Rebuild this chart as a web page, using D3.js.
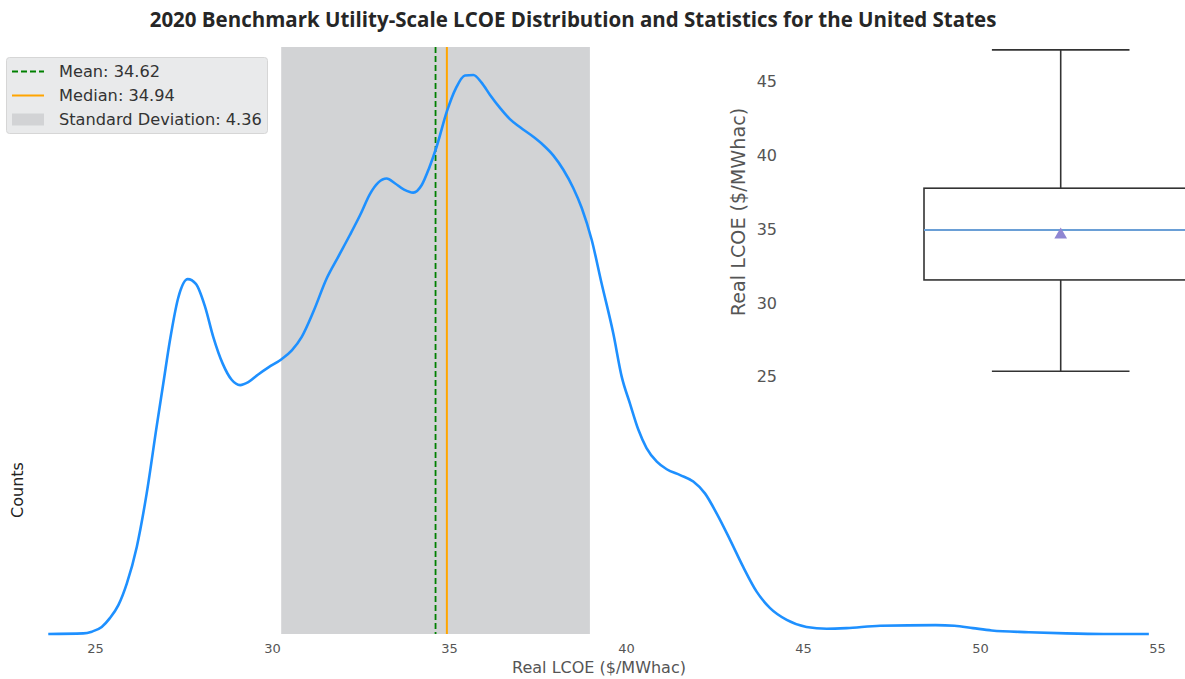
<!DOCTYPE html>
<html>
<head>
<meta charset="utf-8">
<script src="https://cdn.jsdelivr.net/npm/d3@7"></script>
<style>
  html, body { margin: 0; padding: 0; background: #ffffff; }
  svg { display: block; }
</style>
</head>
<body>
<svg id="chart" width="1185" height="679"></svg>
<script>
// Kernel density estimate of 2020 utility-scale LCOE ($/MWhac)
const lcoeGrid = [
  23.68, 24.67, 24.91, 25.19, 25.42, 25.66, 25.90, 26.18, 26.46, 26.74,
  26.93, 27.12, 27.35, 27.62, 27.85, 28.11, 28.34, 28.61, 28.86, 29.10,
  29.33, 29.61, 29.90, 30.27, 30.56, 30.84, 31.17, 31.55, 31.87, 32.20,
  32.49, 32.77, 33.00, 33.24, 33.47, 33.73, 33.99, 34.23, 34.44, 34.65,
  34.94, 35.20, 35.45, 35.69, 35.92, 36.16, 36.44, 36.72, 37.01, 37.38,
  37.66, 37.95, 38.23, 38.51, 38.75, 39.03, 39.31, 39.64, 39.88, 40.11,
  40.35, 40.58, 40.87, 41.15, 41.53, 41.90, 42.23, 42.56, 42.94, 43.31,
  43.69, 44.07, 44.54, 45.10, 45.67, 46.23, 47.18, 48.75, 49.28, 49.80,
  50.33, 51.38, 52.43, 53.49, 54.77
];
const density = [
  0.0000, 0.0001, 0.0004, 0.0012, 0.0027, 0.0049, 0.0086, 0.0148, 0.0239, 0.0352,
  0.0426, 0.0500, 0.0571, 0.0603, 0.0595, 0.0556, 0.0505, 0.0459, 0.0432, 0.0423,
  0.0428, 0.0441, 0.0453, 0.0467, 0.0482, 0.0505, 0.0548, 0.0605, 0.0641, 0.0678,
  0.0712, 0.0748, 0.0767, 0.0774, 0.0766, 0.0755, 0.0750, 0.0763, 0.0792, 0.0828,
  0.0888, 0.0928, 0.0949, 0.0950, 0.0937, 0.0916, 0.0894, 0.0875, 0.0861, 0.0845,
  0.0831, 0.0813, 0.0789, 0.0758, 0.0724, 0.0670, 0.0596, 0.0511, 0.0437, 0.0392,
  0.0347, 0.0316, 0.0293, 0.0280, 0.0270, 0.0259, 0.0239, 0.0205, 0.0160, 0.0114,
  0.0072, 0.0044, 0.0024, 0.0012, 0.0009, 0.0010, 0.0014, 0.0015, 0.0014, 0.0010,
  0.0006, 0.0003, 0.0001, 0.0000, 0.0000
];

// Summary statistics
const meanValue = 34.62;
const medianValue = 34.94;
const stdValue = 4.36;

// Box plot statistics (fliers hidden)
const whiskerLow = 25.37;
const quartile1 = 31.56;
const quartile3 = 37.78;
const whiskerHigh = 47.16;

const xTicks = [25, 30, 35, 40, 45, 50, 55];
const insetTicks = [25, 30, 35, 40, 45];

const titleText = "2020 Benchmark Utility-Scale LCOE Distribution and Statistics for the United States";
const xLabel = "Real LCOE ($/MWhac)";
const yLabel = "Counts";
const legendLabels = [
  "Mean: " + meanValue.toFixed(2),
  "Median: " + medianValue.toFixed(2),
  "Standard Deviation: " + stdValue.toFixed(2)
];

const svg = d3.select("#chart");
const FONT = "'DejaVu Sans', sans-serif";

// ---- Main density axes ----
const plotTop = 47, plotBottom = 634;
const x = d3.scaleLinear().domain([25, 55]).range([95, 1157]);
const y = d3.scaleLinear().domain([0, d3.max(density) * 1.05]).range([plotBottom, plotTop]);

// Standard deviation band
svg.append("rect")
  .attr("x", x(meanValue - stdValue))
  .attr("y", plotTop)
  .attr("width", x(meanValue + stdValue) - x(meanValue - stdValue))
  .attr("height", plotBottom - plotTop)
  .attr("fill", "#d2d3d5");

// Mean and median lines
svg.append("line")
  .attr("x1", x(meanValue)).attr("x2", x(meanValue))
  .attr("y1", plotTop).attr("y2", plotBottom)
  .attr("stroke", "#008000").attr("stroke-width", 1.8)
  .attr("stroke-dasharray", "6,3");
svg.append("line")
  .attr("x1", x(medianValue)).attr("x2", x(medianValue))
  .attr("y1", plotTop).attr("y2", plotBottom)
  .attr("stroke", "#FFA500").attr("stroke-width", 2);

// Density curve
const pts = lcoeGrid.map((v, i) => [v, density[i]]);
svg.append("path")
  .datum(pts)
  .attr("fill", "none")
  .attr("stroke", "#1E90FF")
  .attr("stroke-width", 2.6)
  .attr("stroke-linejoin", "round")
  .attr("d", d3.line().x(d => x(d[0])).y(d => y(d[1])).curve(d3.curveMonotoneX));

// X axis (labels only, no spine or tick marks)
const xAxis = svg.append("g")
  .attr("transform", `translate(0,${plotBottom + 6})`)
  .call(d3.axisBottom(x).tickValues(xTicks).tickSize(0).tickPadding(4).tickFormat(d3.format("d")));
xAxis.select(".domain").remove();
xAxis.selectAll("text").attr("font-family", FONT).attr("font-size", 13).attr("fill", "#555");

svg.append("text")
  .attr("x", 599).attr("y", 673)
  .attr("text-anchor", "middle")
  .attr("font-family", FONT).attr("font-size", 16).attr("fill", "#555")
  .text(xLabel);

svg.append("text")
  .attr("transform", "translate(23,490) rotate(-90)")
  .attr("text-anchor", "middle")
  .attr("font-family", FONT).attr("font-size", 16).attr("fill", "#222")
  .text(yLabel);

// ---- Inset box plot ----
const yInset = d3.scaleLinear().domain([25, 45]).range([376.7, 81.7]);
const boxCenter = 1060.7, boxHalf = 136.7, capHalf = 68.8;
const boxG = svg.append("g");

// whiskers
boxG.append("line")
  .attr("x1", boxCenter).attr("x2", boxCenter)
  .attr("y1", yInset(quartile3)).attr("y2", yInset(whiskerHigh))
  .attr("stroke", "#333").attr("stroke-width", 1.6);
boxG.append("line")
  .attr("x1", boxCenter).attr("x2", boxCenter)
  .attr("y1", yInset(quartile1)).attr("y2", yInset(whiskerLow))
  .attr("stroke", "#333").attr("stroke-width", 1.6);
[whiskerHigh, whiskerLow].forEach(v => {
  boxG.append("line")
    .attr("x1", boxCenter - capHalf).attr("x2", boxCenter + capHalf)
    .attr("y1", yInset(v)).attr("y2", yInset(v))
    .attr("stroke", "#333").attr("stroke-width", 1.6);
});
// box
boxG.append("rect")
  .attr("x", boxCenter - boxHalf)
  .attr("y", yInset(quartile3))
  .attr("width", boxHalf * 2)
  .attr("height", yInset(quartile1) - yInset(quartile3))
  .attr("fill", "none").attr("stroke", "#333").attr("stroke-width", 1.6);
// median
boxG.append("line")
  .attr("x1", boxCenter - boxHalf).attr("x2", boxCenter + boxHalf)
  .attr("y1", yInset(medianValue)).attr("y2", yInset(medianValue))
  .attr("stroke", "#6a9fd6").attr("stroke-width", 2);
// mean marker
boxG.append("path")
  .attr("transform", `translate(${boxCenter},${yInset(meanValue)})`)
  .attr("d", d3.symbol().type(d3.symbolTriangle).size(70))
  .attr("fill", "#8f86d2");

// inset y axis labels
const insetAxis = svg.append("g")
  .attr("transform", "translate(777,0)")
  .call(d3.axisLeft(yInset).tickValues(insetTicks).tickSize(0).tickPadding(0).tickFormat(d3.format("d")));
insetAxis.select(".domain").remove();
insetAxis.selectAll("text").attr("font-family", FONT).attr("font-size", 16).attr("fill", "#555");

svg.append("text")
  .attr("transform", "translate(745,212) rotate(-90)")
  .attr("text-anchor", "middle")
  .attr("font-family", FONT).attr("font-size", 19.2).attr("fill", "#555")
  .text("Real LCOE ($/MWhac)");

// ---- Legend ----
const lg = svg.append("g");
lg.append("rect")
  .attr("x", 6.5).attr("y", 57.5).attr("width", 261).attr("height", 76)
  .attr("rx", 3).attr("fill", "#e9eaeb").attr("stroke", "#d6d6d6");
const rowY = [71.5, 95.5, 119.5];
lg.append("line").attr("x1", 12).attr("x2", 44).attr("y1", rowY[0]).attr("y2", rowY[0])
  .attr("stroke", "#008000").attr("stroke-width", 1.8).attr("stroke-dasharray", "6,3");
lg.append("line").attr("x1", 12).attr("x2", 44).attr("y1", rowY[1]).attr("y2", rowY[1])
  .attr("stroke", "#FFA500").attr("stroke-width", 2);
lg.append("rect").attr("x", 12).attr("y", rowY[2] - 6).attr("width", 32).attr("height", 12)
  .attr("fill", "#d2d3d5");
legendLabels.forEach((t, i) => {
  lg.append("text")
    .attr("x", 59).attr("y", rowY[i])
    .attr("dy", "0.35em")
    .attr("font-family", FONT).attr("font-size", 16.2).attr("fill", "#333")
    .text(t);
});

// ---- Title ----
const title = svg.append("text")
  .attr("x", 573).attr("y", 27)
  .attr("text-anchor", "middle")
  .attr("font-family", "'Open Sans', sans-serif")
  .attr("font-weight", 700)
  .attr("font-size", 20)
  .attr("fill", "#262626")
  .text(titleText);
const tw = title.node().getComputedTextLength();
title.attr("font-size", 20 * 847 / tw);
</script>
</body>
</html>
